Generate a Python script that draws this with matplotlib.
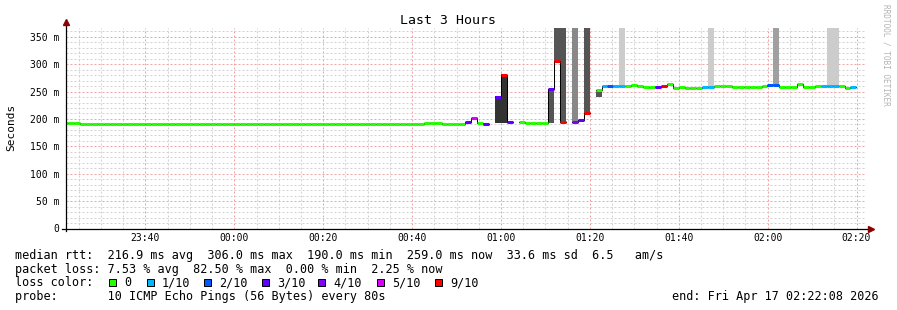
import numpy as np
import matplotlib
matplotlib.use("Agg")
import matplotlib.pyplot as plt
from matplotlib.patches import Rectangle
from matplotlib.lines import Line2D

# ---------------- data ----------------
title = "Last 3 Hours"
y_label = "Seconds"
watermark = "RRDTOOL / TOBI OETIKER"
start_clock = "23:22:08"          # 3 hours before the end time
span_minutes = 180
step_minutes = 80 / 60.0          # one probe every 80 s
step_phase = 0.5                  # minutes from start to first bin boundary
first_step = -1

# median RTT per 80 s bin (ms); nan = no data
nan = float("nan")
median_ms = [
    192, 192, 192,
    190, 190, 190, 190, 190,
    191.5, 191.5, 191.5, 191.5,
    191, 191, 191, 191, 191, 191, 191, 191, 191, 191, 191,
    190, 190, 190, 190, 190, 190,
    191.5, 191.5, 191.5, 191.5, 191.5, 191.5, 191.5, 191.5, 191.5, 191.5,
    190.5, 190.5, 190.5, 190.5, 190.5, 190.5, 190.5, 190.5, 190.5, 190.5, 190.5,
    190.5, 190.5, 190.5, 190.5, 190.5, 190.5, 190.5, 190.5, 190.5, 190.5, 190.5,
    192, 192, 192,
    190.5, 190.5, 190.5, 190.5,
    195, 201, 193, 190, nan, 240, 280, 195, nan, 194,
    192, 192, 192, 192, 255, 306, 195, nan, 194, 198,
    210, nan, 253, 260, 260, 259.5, 259.5, 260, 262, 260,
    258, 258, 258, 260, 263, 257, 259, 257, 257, 257,
    259, 259, 260, 260, 260, 258, 258, 258, 258, 258,
    259.5, 261.5, 261.5, 258, 258, 259, 263, 258, 258, 260,
    260, 260, 260, 260, 256, 259,
]
# packet loss per bin, in tenths
loss_tenths = [0] * 68 + [
    3, 5, 0, 3, 0, 3, 9, 3, 0, 0,
    0, 0, 0, 0, 3, 9, 9, 0, 4, 3,
    9, 0, 0, 1, 2, 1, 1, 0, 0, 0,
    0, 0, 3, 9, 0, 0, 0, 0, 0, 0,
    1, 1, 0, 0, 0, 0, 0, 0, 0, 0,
    0, 2, 2, 0, 0, 0, 0, 0, 0, 0,
    1, 1, 1, 0, 0, 1,
]

# smoke (ping spread) bins
smoke_step = [72, 73, 81, 82, 83, 85, 87, 89, 93, 108, 119, 128, 129]
smoke_lo = [193, 193, 193, 304, 193, 194, 210, 240, 259, 259, 261, 260, 260]
smoke_hi = [241, 282, 255, 380, 380, 380, 380, 253, 380, 380, 380, 380, 380]
smoke_shade = ["#333333", "#333333", "#555555", "#555555", "#555555", "#888888",
               "#555555", "#555555", "#cccccc", "#cccccc", "#a0a0a0", "#cccccc", "#cccccc"]

loss_levels = [0, 1, 2, 3, 4, 5, 9]
loss_labels = ["0", "1/10", "2/10", "3/10", "4/10", "5/10", "9/10"]
loss_colors = ["#26ff00", "#00b8ff", "#0059ff", "#5e00ff", "#7e00ff", "#dd00ff", "#ff0000"]

y_ticks = [0, 50, 100, 150, 200, 250, 300, 350]
y_tick_labels = ["0", "50 m", "100 m", "150 m", "200 m", "250 m", "300 m", "350 m"]
x_tick_labels = ["23:40", "00:00", "00:20", "00:40", "01:00", "01:20", "01:40", "02:00", "02:20"]

legend_line1 = "median rtt:  216.9 ms avg  306.0 ms max  190.0 ms min  259.0 ms now  33.6 ms sd  6.5   am/s"
legend_line2 = "packet loss: 7.53 % avg  82.50 % max  0.00 % min  2.25 % now"
legend_line3 = "loss color:"
legend_line4 = "probe:       10 ICMP Echo Pings (56 Bytes) every 80s"
end_label = "end: Fri Apr 17 02:22:08 2026"

# ---------------- drawing ----------------
plt.rcParams["font.family"] = ["DejaVu Sans Mono"]
W, H = 897, 310
fig = plt.figure(figsize=(W / 100, H / 100), dpi=100)
fig.patch.set_facecolor("white")


def fx(px):
    return px / W


def fy(py):
    return 1 - py / H


L, R, T, B = 66, 866, 28, 228.5
ax = fig.add_axes([fx(L), fy(B), (R - L) / W, (B - T) / H])
ax.set_facecolor("white")
ax.set_xlim(0, span_minutes)
ax.set_ylim(0, 366)


def clock_to_min(s):
    parts = [int(p) for p in s.split(":")]
    while len(parts) < 3:
        parts.append(0)
    return parts[0] * 60 + parts[1] + parts[2] / 60.0


start_min = clock_to_min(start_clock)
x_tick_pos = [(clock_to_min(lbl) - start_min) % 1440 for lbl in x_tick_labels]
first_minor = (5 - start_min % 5) % 5
x_minor = np.arange(first_minor, span_minutes, 5)

ax.set_xticks(x_tick_pos, labels=x_tick_labels)
ax.set_xticks(x_minor, minor=True)
ax.set_yticks(y_ticks, labels=y_tick_labels)
ax.set_yticks(np.arange(0, 366, 10), minor=True)
ax.tick_params(axis="both", which="both", length=0)
ax.tick_params(axis="y", which="major", pad=5, labelsize=7)
ax.tick_params(axis="x", which="major", pad=3.5, labelsize=7)

ax.set_axisbelow(True)
ax.grid(which="minor", color="#d2d2d2", linewidth=0.72, linestyle=(0, (2, 2)))
ax.grid(which="major", color="#eea4a4", linewidth=0.72, linestyle=(0, (2, 2)))
for s in ax.spines.values():
    s.set_visible(False)

med = np.array(median_ms, dtype=float)
loss = np.array(loss_tenths)
k = np.arange(first_step, first_step + len(med))
t_left = step_phase + k * step_minutes

# smoke
sk = np.array(smoke_step)
ax.bar(step_phase + sk * step_minutes, np.array(smoke_hi) - np.array(smoke_lo),
       bottom=smoke_lo, width=step_minutes, align="edge", color=smoke_shade,
       linewidth=0, zorder=2)

# thin black median step line
ax.plot(np.append(t_left, t_left[-1] + step_minutes), np.append(med, med[-1]),
        drawstyle="steps-post", color="#000000", linewidth=0.72, zorder=3)

# colored median by loss
cmap = dict(zip(loss_levels, loss_colors))
valid = ~np.isnan(med)
lc = ax.hlines(med[valid], t_left[valid], t_left[valid] + step_minutes,
               colors=[cmap[v] for v in loss[valid]], linewidth=2.2, zorder=4)
lc.set_capstyle("butt")

# axes lines and arrows
ax.add_line(Line2D([-0.005, 1.005], [0, 0], transform=ax.transAxes, color="#000000",
                   linewidth=0.9, clip_on=False, zorder=6))
ax.add_line(Line2D([0, 0], [-0.01, 1.02], transform=ax.transAxes, color="#000000",
                   linewidth=0.9, clip_on=False, zorder=6))
ax.plot([0], [1.03], marker="^", markersize=4, color="#8b0000", transform=ax.transAxes,
        clip_on=False, zorder=7)
ax.plot([1.006], [0], marker=">", markersize=4, color="#8b0000", transform=ax.transAxes,
        clip_on=False, zorder=7)

# texts
fig.text(fx(448), fy(24), title, ha="center", va="baseline", fontsize=9.5)
fig.text(fx(11), fy(127), y_label, ha="center", va="center", rotation=90, fontsize=8)
fig.text(fx(886), fy(4), watermark, ha="center", va="top", rotation=270,
         fontsize=5.6, color="#b4b4b4")

fs = 8.5
fig.text(fx(15), fy(258.5), legend_line1, ha="left", va="baseline", fontsize=fs)
fig.text(fx(15), fy(272.5), legend_line2, ha="left", va="baseline", fontsize=fs)
fig.text(fx(15), fy(286.5), legend_line3, ha="left", va="baseline", fontsize=fs)
fig.text(fx(15), fy(300), legend_line4, ha="left", va="baseline", fontsize=fs)
fig.text(fx(879), fy(300), end_label, ha="right", va="baseline", fontsize=fs)

sq_x = [109, 147, 204, 262, 318, 377, 435]
lbl_x = [124, 162, 219, 277, 333, 392, 450]
for col, lbl, sx, lx in zip(loss_colors, loss_labels, sq_x, lbl_x):
    fig.add_artist(Rectangle((fx(sx), fy(286)), 7 / W, 7 / H, transform=fig.transFigure,
                             facecolor=col, edgecolor="#000000", linewidth=0.72))
    fig.text(fx(lx), fy(286.5), lbl, ha="left", va="baseline", fontsize=fs)

fig.savefig("out.png", dpi=100, facecolor="white")
